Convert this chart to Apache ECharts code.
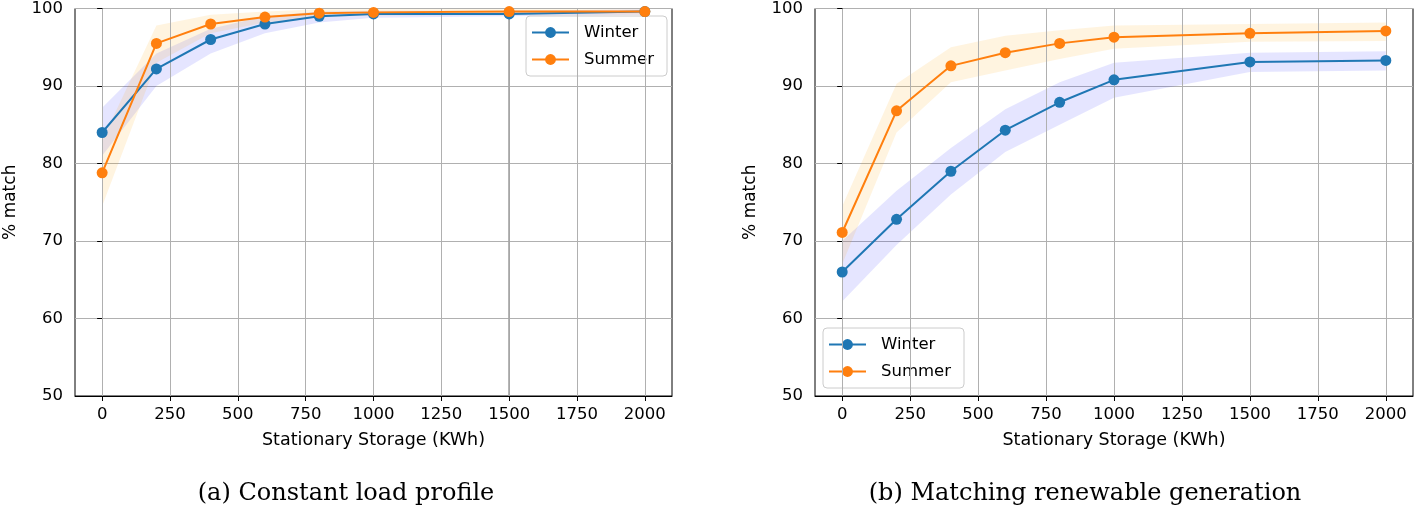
<!DOCTYPE html>
<html>
<head>
<meta charset="utf-8">
<script src="https://cdn.jsdelivr.net/npm/echarts@6/dist/echarts.min.js"></script>
<style>
html,body{margin:0;padding:0;background:#fff;}
#chart{width:1416px;height:512px;}
</style>
</head>
<body>
<div id="chart"></div>
<script>
// ---- data ----
const storage = [0, 200, 400, 600, 800, 1000, 1500, 2000];
const xTickValues = [0, 250, 500, 750, 1000, 1250, 1500, 1750, 2000];
const seriesNames = ['Winter', 'Summer'];
const captions = ['(a) Constant load profile', '(b) Matching renewable generation'];
const xAxisTitle = 'Stationary Storage (KWh)';
const yAxisTitle = '% match';

// (a) Constant load profile
const aWinter   = [84.0, 92.2, 96.0, 98.0, 99.0, 99.3, 99.3, 99.6];
const aWinterLo = [81.0, 90.0, 94.2, 96.8, 98.2, 98.8, 99.0, 99.2];
const aWinterHi = [87.2, 94.2, 97.4, 99.0, 99.6, 99.7, 99.7, 99.9];
const aSummer   = [78.8, 95.5, 98.0, 98.9, 99.4, 99.5, 99.6, 99.6];
const aSummerLo = [74.5, 93.0, 96.8, 98.2, 98.9, 99.1, 99.2, 99.2];
const aSummerHi = [83.0, 97.8, 99.2, 99.6, 99.9, 99.9, 99.9, 99.9];

// (b) Matching renewable generation
const bWinter   = [66.0, 72.8, 79.0, 84.3, 87.9, 90.8, 93.1, 93.3];
const bWinterLo = [62.2, 69.5, 76.0, 81.5, 85.0, 88.5, 91.8, 92.0];
const bWinterHi = [70.0, 76.5, 82.0, 87.0, 90.5, 93.0, 94.3, 94.5];
const bSummer   = [71.1, 86.8, 92.6, 94.3, 95.5, 96.3, 96.8, 97.1];
const bSummerLo = [67.0, 84.0, 90.5, 92.0, 93.5, 94.8, 95.7, 95.8];
const bSummerHi = [74.5, 90.3, 95.0, 96.5, 97.2, 97.8, 98.0, 98.2];

// ---- styling ----
const C_BLUE = '#1f77b4', C_ORANGE = '#ff7f0e';
const BAND_BLUE = 'rgba(0,0,255,0.10)', BAND_ORANGE = 'rgba(255,165,0,0.12)';
const GRID_COLOR = '#b0b0b0';
const FONT = 'DejaVu Sans';

const grids = [
  {left: 75, top: 7, width: 597, height: 389},
  {left: 815, top: 7, width: 598, height: 389}
];

function xAxisCfg(i) {
  return {
    type: 'value', gridIndex: i, min: -100, max: 2100,
    name: xAxisTitle, nameLocation: 'middle', nameGap: 35,
    nameTextStyle: {fontFamily: FONT, fontSize: 17.5, color: '#000'},
    axisLine: {show: true, onZero: false, lineStyle: {color: '#000', width: 1}},
    axisTick: {show: true, inside: false, length: 5, lineStyle: {color: '#000'}, customValues: xTickValues},
    axisLabel: {show: true, margin: 10, fontFamily: FONT, fontSize: 16.5, color: '#000',
                customValues: xTickValues, formatter: v => String(v)},
    splitLine: {show: false}
  };
}
function yAxisCfg(i) {
  return {
    type: 'value', gridIndex: i, min: 50, max: 100, interval: 10,
    name: yAxisTitle, nameLocation: 'middle', nameGap: 56, nameRotate: 90,
    nameTextStyle: {fontFamily: FONT, fontSize: 17, color: '#000'},
    axisLine: {show: true, lineStyle: {color: '#000', width: 1}},
    axisTick: {show: true, inside: false, length: 5, lineStyle: {color: '#000'}},
    axisLabel: {show: true, margin: 12, fontFamily: FONT, fontSize: 16.5, color: '#000', formatter: v => String(v)},
    splitLine: {show: true, lineStyle: {color: GRID_COLOR, width: 1}}
  };
}

function band(i, lo, hi, color) {
  return {
    type: 'custom', xAxisIndex: i, yAxisIndex: i, silent: true, z: 1, clip: true,
    data: storage.map((x, k) => [x, lo[k], hi[k]]),
    renderItem(params, api) {
      if (params.dataIndex !== 0) return null;
      const pts = [];
      for (let k = 0; k < storage.length; k++) pts.push(api.coord([storage[k], hi[k]]));
      for (let k = storage.length - 1; k >= 0; k--) pts.push(api.coord([storage[k], lo[k]]));
      return {type: 'polygon', shape: {points: pts}, style: {fill: color}};
    }
  };
}
function vGrid(i, extra) {
  const data = xTickValues.map(v => ({xAxis: v}));
  return {
    type: 'line', xAxisIndex: i, yAxisIndex: i, data: [], silent: true, z: 0,
    markLine: {
      silent: true, symbol: ['none', 'none'], label: {show: false},
      lineStyle: {color: GRID_COLOR, width: 1, type: 'solid'},
      emphasis: {disabled: true},
      data: data.concat(extra || [])
    }
  };
}
function line(i, name, vals, color) {
  return {
    type: 'line', name: name, xAxisIndex: i, yAxisIndex: i, z: 5,
    data: storage.map((x, k) => [x, vals[k]]),
    symbol: 'circle', symbolSize: 11, showSymbol: true,
    lineStyle: {color: color, width: 2},
    itemStyle: {color: color},
    clip: false
  };
}

function legendCfg(i, pos) {
  return Object.assign({
    show: true, orient: 'vertical', data: seriesNames,
    itemWidth: 37, itemHeight: 13.5, itemGap: 10,
    padding: [8, 13, 8, 5],
    borderColor: '#cccccc', borderWidth: 1, borderRadius: 4,
    backgroundColor: 'rgba(255,255,255,0.8)',
    textStyle: {fontFamily: FONT, fontSize: 16.5, color: '#000', lineHeight: 16, padding: [0, 0, 0, 10]},
    selectedMode: false
  }, pos);
}

const option = {
  animation: false,
  backgroundColor: '#fff',
  grid: grids.map(g => Object.assign({show: true, borderColor: '#000', borderWidth: 1, backgroundColor: 'transparent'}, g)),
  xAxis: [xAxisCfg(0), xAxisCfg(1)],
  yAxis: [yAxisCfg(0), yAxisCfg(1)],
  legend: [
    legendCfg(0, {left: 526, top: 16}),
    legendCfg(1, {left: 823, top: 328})
  ],
  title: [
    {text: captions[0], left: 341, top: 477, textAlign: 'center',
     textStyle: {fontFamily: 'DejaVu Serif', fontSize: 24, fontWeight: 'normal', color: '#000'}},
    {text: captions[1], left: 1080, top: 477, textAlign: 'center',
     textStyle: {fontFamily: 'DejaVu Serif', fontSize: 24, fontWeight: 'normal', color: '#000'}}
  ],
  series: [
    vGrid(0, [{xAxis: 1500, lineStyle: {color: '#a4a4a4', width: 1.6, type: 'solid'}}]),
    vGrid(1),
    band(0, aWinterLo, aWinterHi, BAND_BLUE),
    band(0, aSummerLo, aSummerHi, BAND_ORANGE),
    band(1, bWinterLo, bWinterHi, BAND_BLUE),
    band(1, bSummerLo, bSummerHi, BAND_ORANGE),
    line(0, seriesNames[0], aWinter, C_BLUE),
    line(0, seriesNames[1], aSummer, C_ORANGE),
    line(1, seriesNames[0], bWinter, C_BLUE),
    line(1, seriesNames[1], bSummer, C_ORANGE)
  ]
};

const chart = echarts.init(document.getElementById('chart'), null, {renderer: 'canvas'});
chart.setOption(option);
</script>
</body>
</html>
